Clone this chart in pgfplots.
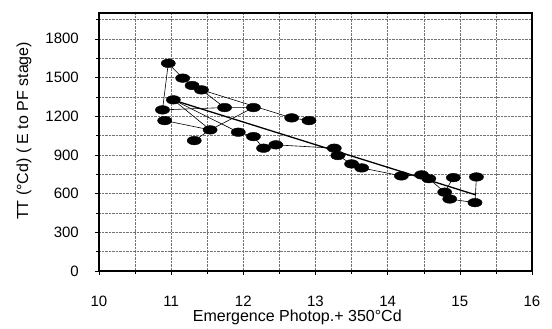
\documentclass[border=0pt]{standalone}
\usepackage{fontspec}
\setmainfont{Liberation Sans}
\usepackage{pgfplots}
\pgfplotsset{compat=1.18}
\begin{document}
\begin{tikzpicture}
\begin{axis}[
 at={(0pt,0pt)}, anchor=south west, scale only axis,
 width=433pt, height=258pt,
 xmin=10, xmax=16, ymin=0, ymax=2000,
 xtick={10,11,...,16}, ytick={0,300,...,1800},
 minor xtick={10.5,11.5,...,15.5}, minor ytick={150,450,...,1950},
 grid=both,
 major grid style={densely dotted, black!55, line width=0.5pt},
 minor grid style={densely dotted, black!55, line width=0.5pt},
 axis line style={line width=1.3pt},
 tick align=outside, tick pos=left, major tick length=4pt, minor tick length=3pt,
 tick style={black, line width=0.5pt},
 ticklabel style={font=\fontsize{15}{18}\selectfont, inner sep=0pt},
 xticklabel style={anchor=base, yshift=-32pt},
 yticklabel style={anchor=east, xshift=-16pt},
 /pgf/number format/assume math mode=true,
 /pgf/number format/1000 sep={},
 xlabel={Emergence Photop.+ 350°Cd},
 ylabel={TT (°Cd) ( E to PF stage)},
 label style={font=\fontsize{16}{19}\selectfont},
 xlabel style={at={(axis description cs:0.458,0)}, anchor=base, yshift=-51pt},
 ylabel style={at={(axis description cs:-0.1732,0.543)}, anchor=center},
]
% connecting lines
\addplot[black, line width=0.6pt] coordinates {(10.88,1249) (10.96,1610) (11.16,1495) (11.29,1438) (11.42,1404) (12.67,1187) (12.91,1166)};
\addplot[black, line width=0.6pt] coordinates {(11.42,1404) (11.74,1267)};
\addplot[black, line width=0.6pt] coordinates {(10.88,1249) (11.74,1267) (12.14,1267) (11.54,1094) (10.91,1166)};
\addplot[black, line width=0.6pt] coordinates {(11.54,1094) (11.32,1011)};
\addplot[black, line width=0.6pt] coordinates {(11.03,1327) (11.54,1094)};
\addplot[black, line width=0.6pt] coordinates {(11.03,1327) (11.93,1076) (12.14,1042) (12.28,952) (12.45,978) (13.26,952) (13.31,895) (13.50,830) (13.64,799) (14.19,737) (14.47,745) (14.57,716) (14.79,611) (14.86,558) (15.21,530) (15.23,729)};
\addplot[black, line width=0.6pt] coordinates {(14.91,724) (14.79,611)};
% regression line
\addplot[black, line width=1.3pt] coordinates {(11.0,1330) (15.22,590)};
% points
\addplot[only marks, mark=*, mark size=4.3pt, mark options={xscale=1.65, fill=black, draw=black}] coordinates {
(10.96,1610) (11.16,1495) (11.29,1438) (11.42,1404) (11.03,1327) (10.88,1249) (10.91,1166)
(11.74,1267) (12.14,1267) (12.67,1187) (12.91,1166) (11.54,1094) (11.32,1011) (11.93,1076)
(12.14,1042) (12.28,952) (12.45,978) (13.26,952) (13.31,895) (13.50,830) (13.64,799)
(14.19,737) (14.47,745) (14.57,716) (14.91,724) (15.23,729) (14.79,611) (14.86,558) (15.21,530)};
\end{axis}
\pgfresetboundingbox
\path[use as bounding box] (-99pt,-58pt) rectangle (453pt,271pt);
\end{tikzpicture}
\end{document}
